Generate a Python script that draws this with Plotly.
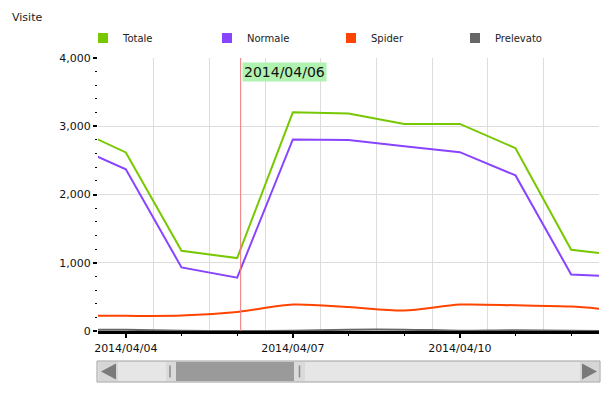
import plotly.graph_objects as go

# ---------------- data ----------------
dates = ["2014-04-03", "2014-04-04", "2014-04-05", "2014-04-06", "2014-04-07", "2014-04-08",
         "2014-04-09", "2014-04-10", "2014-04-11", "2014-04-12", "2014-04-13"]
totale = [2996, 2616, 1175, 1068, 3204, 3185, 3034, 3034, 2679, 1190, 1094]
normale = [2736, 2368, 932, 781, 2806, 2800, 2708, 2620, 2280, 829, 790]
spider = [226, 222, 226, 280, 387, 350, 299, 387, 377, 358, 290]
prelevato = [22, 18, 2, 0, 5, 20, 20, 5, 12, 2, 0]

series_names = ["Totale", "Normale", "Spider", "Prelevato"]
series_values = [totale, normale, spider, prelevato]
series_colors = ["#77c800", "#8844ff", "#ff4400", "#666666"]
series_shapes = ["linear", "linear", "spline", "spline"]

x_range = ["2014-04-03 12:00", "2014-04-12 12:00"]
y_range = [0, 4000]
y_tick_step = 1000
y_minor_step = 200
x_label_ticks = ["2014-04-04", "2014-04-07", "2014-04-10"]
x_tick_labels = ["2014/04/04", "2014/04/07", "2014/04/10"]
grid_tick0 = "2014-04-03 12:00"
day_ms = 86400000
cursor_date = "2014-04-06 01:30"
cursor_label = "2014/04/06"
title_text = "Visite"

# ---------------- layout geometry (pixels) ----------------
W, H = 610, 395
ML, MR, MT, MB = 98, 11, 58, 64
PW, PH = W - ML - MR, H - MT - MB


def px(x):
    return (x - ML) / PW


def py(y):
    return (H - MB - y) / PH


FONT = "DejaVu Sans"

fig = go.Figure()

# data lines (drawn back to front)
for name, vals, col, shp in reversed(list(zip(series_names, series_values, series_colors, series_shapes))):
    fig.add_trace(go.Scatter(
        x=dates, y=vals, mode="lines", name=name, showlegend=False,
        line=dict(color=col, width=2, shape=shp, smoothing=0.8),
        hoverinfo="skip", xaxis="x", yaxis="y"))

# legend entries with square swatches
for name, col in zip(series_names, series_colors):
    fig.add_trace(go.Scatter(
        x=[None], y=[None], mode="markers", name=name, showlegend=True,
        marker=dict(symbol="square", size=10, color=col), xaxis="x", yaxis="y"))

# invisible trace so the label axis exists
fig.add_trace(go.Scatter(x=x_range, y=[None, None], mode="lines", showlegend=False,
                         hoverinfo="skip", xaxis="x2", yaxis="y"))

shapes = []
# cursor line
shapes.append(dict(type="line", xref="x", yref="paper", x0=cursor_date, x1=cursor_date,
                   y0=0, y1=1, line=dict(color="#f07878", width=1)))

# scrollbar decoration
sb_top, sb_bot = 361, 382
shapes.append(dict(type="rect", xref="paper", yref="paper", x0=px(97), x1=px(600),
                   y0=py(sb_bot), y1=py(sb_top), fillcolor="#e6e6e6",
                   line=dict(color="#a0a0a0", width=1), layer="above"))
shapes.append(dict(type="rect", xref="paper", yref="paper", x0=px(98.5), x1=px(118),
                   y0=py(sb_bot - 1), y1=py(sb_top + 1), fillcolor="#d6d6d6",
                   line=dict(width=0), layer="above"))
shapes.append(dict(type="rect", xref="paper", yref="paper", x0=px(580), x1=px(599),
                   y0=py(sb_bot - 1), y1=py(sb_top + 1), fillcolor="#d6d6d6",
                   line=dict(width=0), layer="above"))
shapes.append(dict(type="path", xref="paper", yref="paper",
                   path=f"M {px(101)},{py(371.5)} L {px(116)},{py(363.5)} L {px(116)},{py(379.5)} Z",
                   fillcolor="#7a7a7a", line=dict(width=0), layer="above"))
shapes.append(dict(type="path", xref="paper", yref="paper",
                   path=f"M {px(597)},{py(371.5)} L {px(582)},{py(363.5)} L {px(582)},{py(379.5)} Z",
                   fillcolor="#7a7a7a", line=dict(width=0), layer="above"))
# thumb
shapes.append(dict(type="rect", xref="paper", yref="paper", x0=px(166), x1=px(305),
                   y0=py(sb_bot - 1), y1=py(sb_top + 1), fillcolor="#dadada",
                   line=dict(width=0), layer="above"))
shapes.append(dict(type="rect", xref="paper", yref="paper", x0=px(176), x1=px(294),
                   y0=py(sb_bot - 1), y1=py(sb_top + 1), fillcolor="#9a9a9a",
                   line=dict(width=0), layer="above"))
for hx in (170, 299.5):
    shapes.append(dict(type="line", xref="paper", yref="paper", x0=px(hx), x1=px(hx),
                       y0=py(377.5), y1=py(365.5), line=dict(color="#8a8a8a", width=1.5),
                       layer="above"))

annotations = [
    dict(text=cursor_label, xref="x", yref="paper", x=cursor_date, y=py(62), xanchor="left",
         yanchor="top", xshift=1, showarrow=False, bgcolor="#b0f2b0", borderpad=1,
         font=dict(family=FONT, size=14, color="#111111")),
    dict(text=title_text, xref="paper", yref="paper", x=px(10), y=py(17), xanchor="left",
         yanchor="middle", showarrow=False, font=dict(family=FONT, size=11, color="#222222")),
]

fig.update_layout(
    width=W, height=H, autosize=False,
    margin=dict(l=ML, r=MR, t=MT, b=MB, pad=0),
    paper_bgcolor="white", plot_bgcolor="white",
    font=dict(family=FONT, size=11, color="#111111"),
    showlegend=True,
    legend=dict(orientation="h", x=px(83), y=py(38), xanchor="left", yanchor="middle",
                font=dict(family=FONT, size=10, color="#222222"),
                entrywidth=79, entrywidthmode="pixels", bgcolor="rgba(0,0,0,0)",
                borderwidth=0, itemclick=False),
    xaxis=dict(type="date", range=x_range, tick0=grid_tick0, dtick=day_ms,
               showgrid=True, gridcolor="#dddddd", gridwidth=1, showticklabels=False,
               ticks="", showline=False, zeroline=False),
    xaxis2=dict(type="date", range=x_range, overlaying="x", anchor="y", side="bottom",
                tickmode="array", tickvals=x_label_ticks, ticktext=x_tick_labels,
                ticks="outside", ticklen=4, tickwidth=2, tickcolor="black",
                showgrid=False, zeroline=False, showline=True, linecolor="black", linewidth=3,
                tickfont=dict(family=FONT, size=11, color="#111111"),
                ticklabelstandoff=1,
                minor=dict(tickmode="array", tickvals=dates, ticks="outside", ticklen=2,
                           tickwidth=1, tickcolor="black", showgrid=False)),
    yaxis=dict(range=y_range, dtick=y_tick_step, tick0=0, tickformat=",",
               ticks="outside", ticklen=4, tickwidth=2, tickcolor="black",
               showgrid=True, gridcolor="#dddddd", gridwidth=1, zeroline=False, showline=False,
               tickfont=dict(family=FONT, size=11, color="#111111"),
               minor=dict(dtick=y_minor_step, ticks="outside", ticklen=2, tickwidth=1,
                          tickcolor="black", showgrid=False)),
    shapes=shapes,
    annotations=annotations,
    hovermode=False,
)

fig.write_html("out.html", config={"displayModeBar": False},
               post_script="document.body.style.margin='0px';document.body.style.padding='0px';")
